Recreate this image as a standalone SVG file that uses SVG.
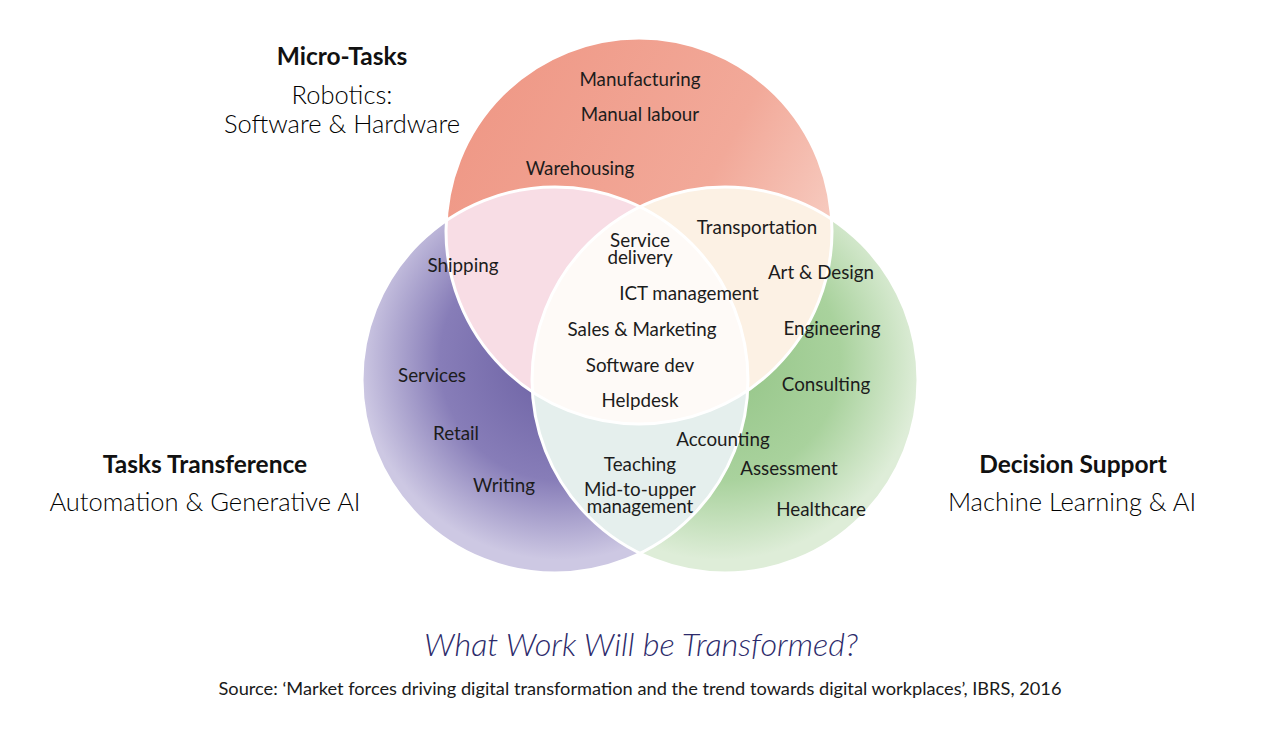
<svg xmlns="http://www.w3.org/2000/svg" width="1280" height="733" viewBox="0 0 1280 733">
<style>
.lbl{font-family:Lato,"Noto Sans",sans-serif;font-size:18.8px;fill:#1c1c1c;text-anchor:middle}
.hd{font-family:Lato,"Noto Sans",sans-serif;font-size:24.5px;font-weight:700;fill:#111;text-anchor:middle}
.sub{font-family:Lato,"Noto Sans",sans-serif;font-size:25.5px;font-weight:300;fill:#000;text-anchor:middle}
.ring{fill:none;stroke:#fff;stroke-width:3}
</style>
<defs>
<radialGradient id="gPurple" cx="560" cy="360" r="200" gradientUnits="userSpaceOnUse">
<stop offset="0" stop-color="#6a5fa2"/>
<stop offset="0.6" stop-color="#877db8"/>
<stop offset="1" stop-color="#cdc8e3"/>
</radialGradient>
<radialGradient id="gGreen" cx="720" cy="360" r="200" gradientUnits="userSpaceOnUse">
<stop offset="0" stop-color="#93c486"/>
<stop offset="0.6" stop-color="#a9d29d"/>
<stop offset="1" stop-color="#deedd8"/>
</radialGradient>
<linearGradient id="gRed" x1="480" y1="80" x2="820" y2="260" gradientUnits="userSpaceOnUse">
<stop offset="0" stop-color="#ef9886"/>
<stop offset="0.65" stop-color="#f2a999"/>
<stop offset="1" stop-color="#f7cdc2"/>
</linearGradient>
<clipPath id="cTop"><circle cx="639" cy="231" r="193"/></clipPath>
<clipPath id="cLeft"><circle cx="555" cy="380" r="193"/></clipPath>
<clipPath id="cRight"><circle cx="725" cy="380" r="193"/></clipPath>
</defs>
<rect width="1280" height="733" fill="#fff"/>
<g id="venn">
<circle id="left-circle" cx="555" cy="380" r="193" fill="url(#gPurple)"/>
<circle id="right-circle" cx="725" cy="380" r="193" fill="url(#gGreen)"/>
<circle id="top-circle" cx="639" cy="231" r="193" fill="url(#gRed)"/>
<g clip-path="url(#cTop)"><circle cx="555" cy="380" r="193" fill="#f8dde5"/></g>
<g clip-path="url(#cTop)"><circle cx="725" cy="380" r="193" fill="#fcf1e4"/></g>
<g clip-path="url(#cLeft)"><circle cx="725" cy="380" r="193" fill="#e5efed"/></g>
<g clip-path="url(#cTop)"><g clip-path="url(#cLeft)"><circle cx="725" cy="380" r="193" fill="#fefaf7"/></g></g>
<circle class="ring" cx="555" cy="380" r="193"/>
<circle class="ring" cx="725" cy="380" r="193"/>
<circle class="ring" cx="639" cy="231" r="193"/>
</g>
<g id="micro-tasks">
<text class="hd" x="342" y="65">Micro-Tasks</text>
<text class="sub" x="342" y="104">Robotics:</text>
<text class="sub" x="342" y="133">Software &amp; Hardware</text>
</g>
<g id="tasks-transference">
<text class="hd" x="205" y="473">Tasks Transference</text>
<text class="sub" x="205" y="511">Automation &amp; Generative AI</text>
</g>
<g id="decision-support">
<text class="hd" x="1073" y="473">Decision Support</text>
<text class="sub" x="1072" y="511">Machine Learning &amp; AI</text>
</g>
<g id="labels">
<text class="lbl" x="640" y="86">Manufacturing</text>
<text class="lbl" x="640" y="121">Manual labour</text>
<text class="lbl" x="580" y="175">Warehousing</text>
<text class="lbl" x="757" y="234">Transportation</text>
<text class="lbl" x="463" y="272">Shipping</text>
<text class="lbl" x="640" y="247">Service<tspan x="640" dy="17">delivery</tspan></text>
<text class="lbl" x="821" y="279">Art &amp; Design</text>
<text class="lbl" x="689" y="300">ICT management</text>
<text class="lbl" x="642" y="336">Sales &amp; Marketing</text>
<text class="lbl" x="832" y="335">Engineering</text>
<text class="lbl" x="640" y="372">Software dev</text>
<text class="lbl" x="432" y="382">Services</text>
<text class="lbl" x="826" y="391">Consulting</text>
<text class="lbl" x="640" y="407">Helpdesk</text>
<text class="lbl" x="456" y="440">Retail</text>
<text class="lbl" x="723" y="446">Accounting</text>
<text class="lbl" x="640" y="471">Teaching</text>
<text class="lbl" x="789" y="475">Assessment</text>
<text class="lbl" x="504" y="492">Writing</text>
<text class="lbl" x="640" y="496">Mid-to-upper<tspan x="640" dy="17">management</tspan></text>
<text class="lbl" x="821" y="516">Healthcare</text>
</g>
<g id="caption">
<text x="641" y="656" textLength="434" lengthAdjust="spacingAndGlyphs" style="font-family:Lato,'Noto Sans',sans-serif;font-size:31px;font-style:italic;font-weight:300;fill:#2d2b6b;text-anchor:middle">What Work Will be Transformed?</text>
<text x="640" y="695" textLength="843" lengthAdjust="spacingAndGlyphs" style="font-family:Lato,'Noto Sans',sans-serif;font-size:17px;fill:#1a1a1a;text-anchor:middle">Source: ‘Market forces driving digital transformation and the trend towards digital workplaces’, IBRS, 2016</text>
</g>
</svg>
